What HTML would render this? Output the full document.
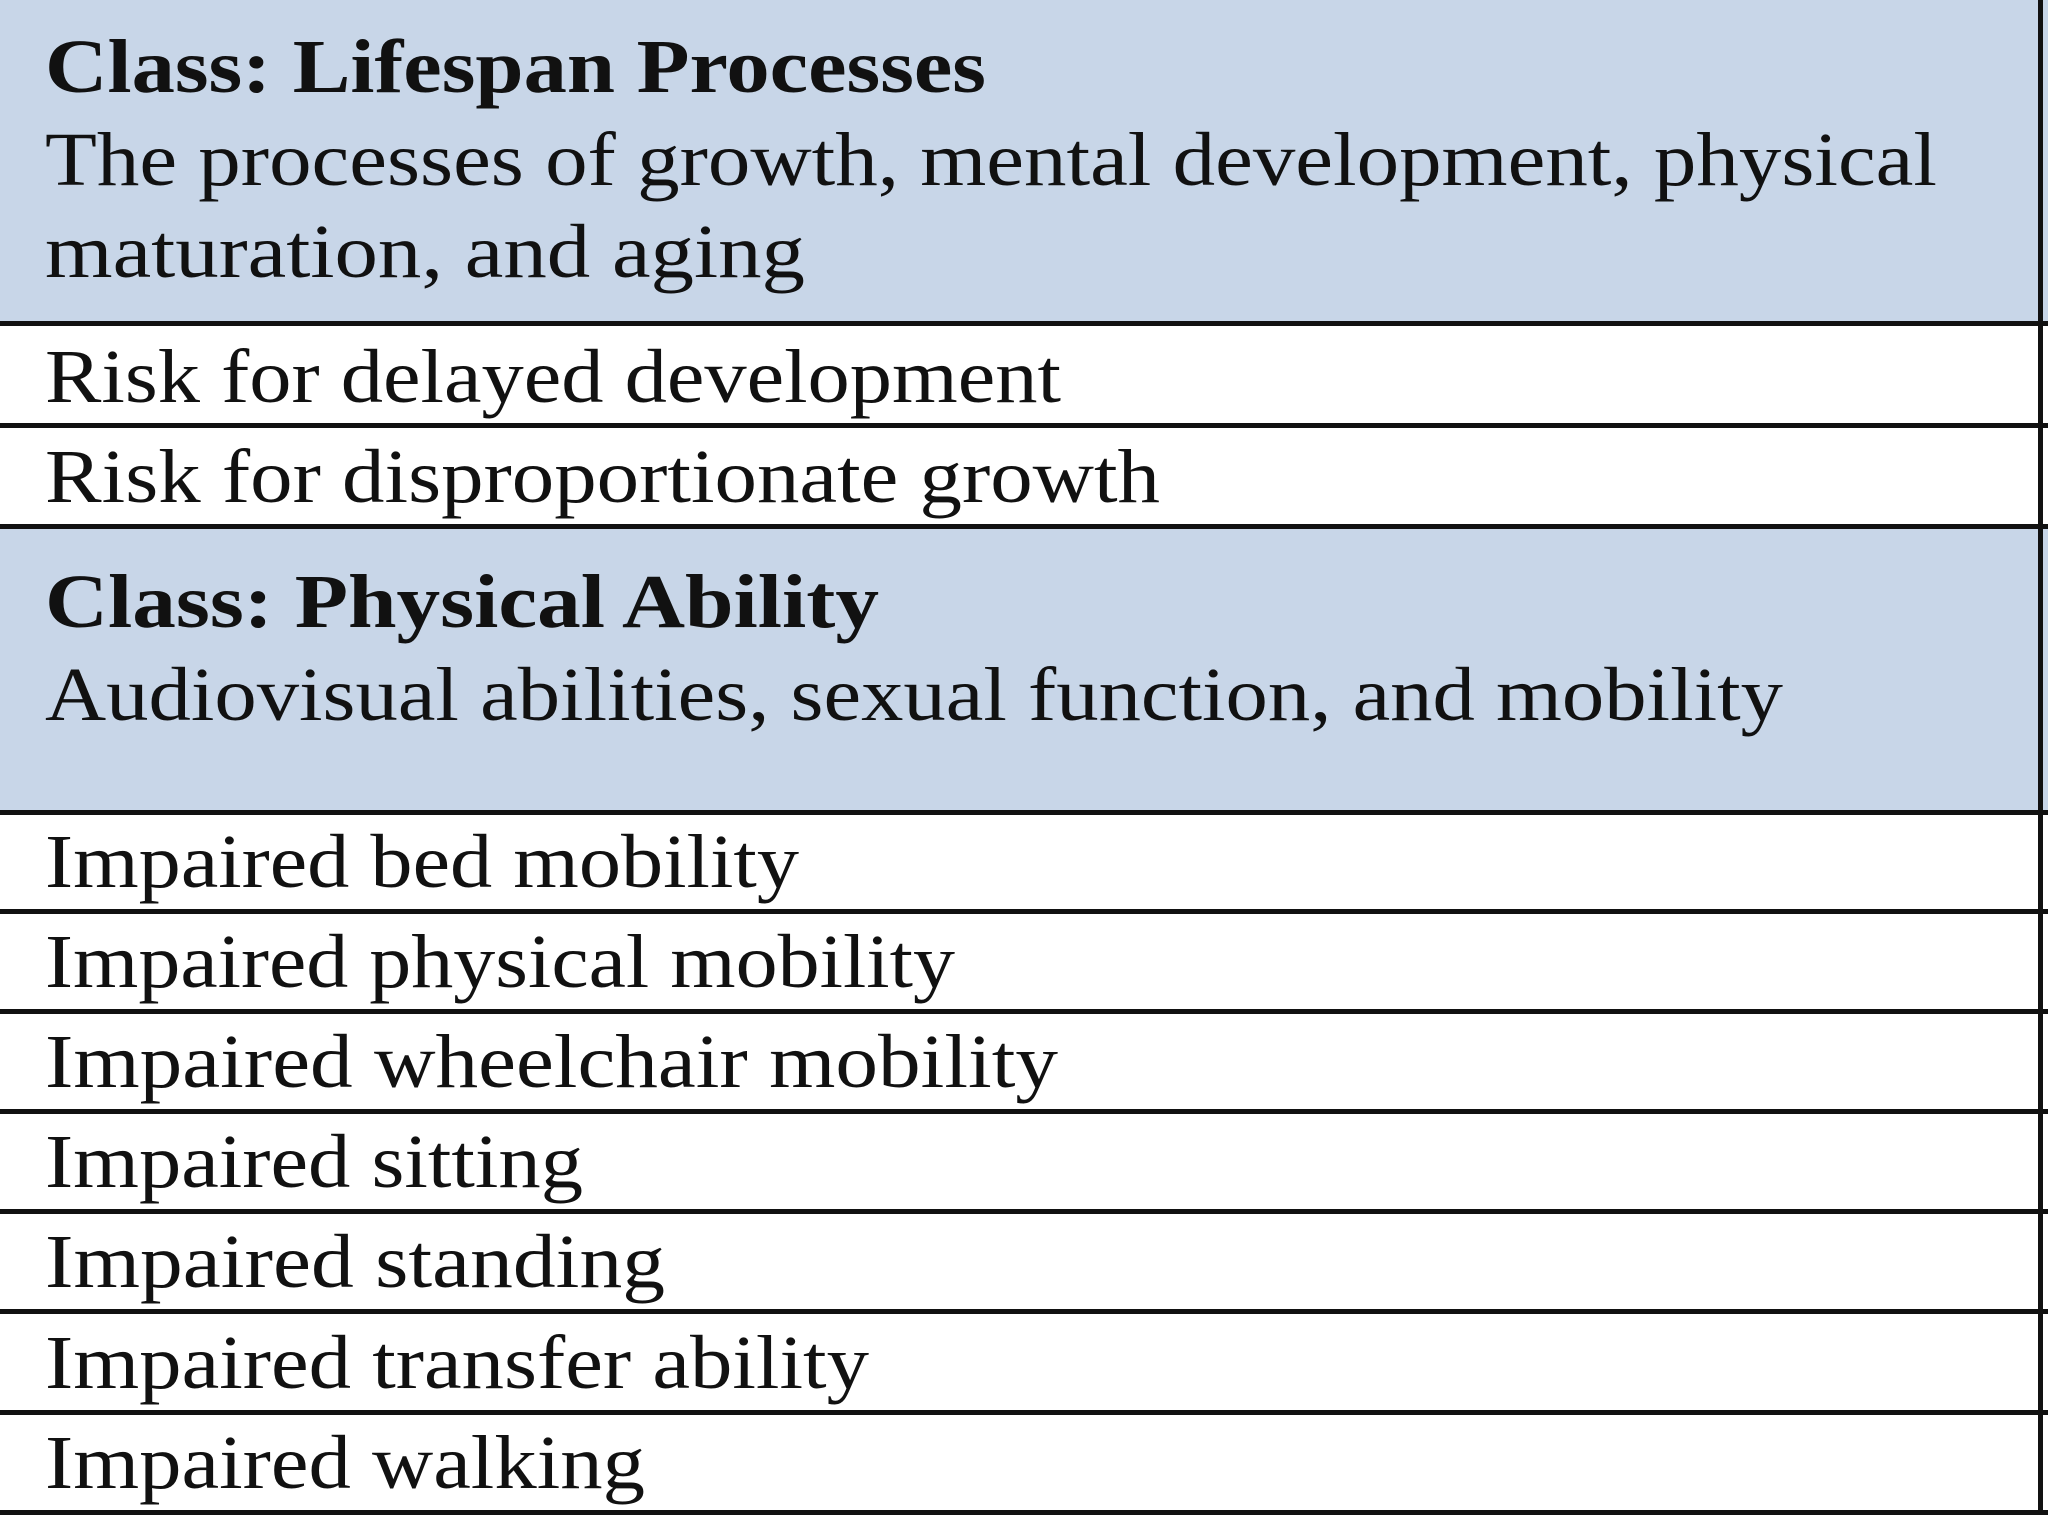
<!DOCTYPE html>
<html><head><meta charset="utf-8"><style>
html,body{margin:0;padding:0;background:#fff;width:2048px;height:1536px;overflow:hidden}
svg{display:block}
text{font-family:"Liberation Serif",serif;fill:#111;font-size:76px}
.b{font-weight:bold}
</style></head><body>
<svg width="2048" height="1536" viewBox="0 0 2048 1536">
<rect x="0" y="0" width="2048" height="324" fill="#c8d6e8"/>
<rect x="0" y="526" width="2048" height="286" fill="#c8d6e8"/>
<g fill="#111">
<rect x="0" y="321" width="2048" height="5"/>
<rect x="0" y="423" width="2048" height="5"/>
<rect x="0" y="524" width="2048" height="5"/>
<rect x="0" y="810" width="2048" height="5"/>
<rect x="0" y="909" width="2048" height="5"/>
<rect x="0" y="1009" width="2048" height="5"/>
<rect x="0" y="1109" width="2048" height="5"/>
<rect x="0" y="1209" width="2048" height="5"/>
<rect x="0" y="1309" width="2048" height="5"/>
<rect x="0" y="1410" width="2048" height="5"/>
<rect x="0" y="1510" width="2048" height="5"/>
<rect x="2038" y="0" width="5" height="1515"/>
</g>
<text class="b" x="45" y="92" textLength="941" lengthAdjust="spacingAndGlyphs">Class: Lifespan Processes</text>
<text x="45" y="185" textLength="1892" lengthAdjust="spacingAndGlyphs">The processes of growth, mental development, physical</text>
<text x="45" y="277" textLength="760" lengthAdjust="spacingAndGlyphs">maturation, and aging</text>
<text x="45" y="402" textLength="1016" lengthAdjust="spacingAndGlyphs">Risk for delayed development</text>
<text x="45" y="502" textLength="1115" lengthAdjust="spacingAndGlyphs">Risk for disproportionate growth</text>
<text class="b" x="45" y="627" textLength="834" lengthAdjust="spacingAndGlyphs">Class: Physical Ability</text>
<text x="45" y="720" textLength="1738" lengthAdjust="spacingAndGlyphs">Audiovisual abilities, sexual function, and mobility</text>
<text x="45" y="887" textLength="754" lengthAdjust="spacingAndGlyphs">Impaired bed mobility</text>
<text x="45" y="987" textLength="910" lengthAdjust="spacingAndGlyphs">Impaired physical mobility</text>
<text x="45" y="1087" textLength="1013" lengthAdjust="spacingAndGlyphs">Impaired wheelchair mobility</text>
<text x="45" y="1187" textLength="538" lengthAdjust="spacingAndGlyphs">Impaired sitting</text>
<text x="45" y="1287" textLength="620" lengthAdjust="spacingAndGlyphs">Impaired standing</text>
<text x="45" y="1388" textLength="824" lengthAdjust="spacingAndGlyphs">Impaired transfer ability</text>
<text x="45" y="1488" textLength="600" lengthAdjust="spacingAndGlyphs">Impaired walking</text>
</svg>
</body></html>
